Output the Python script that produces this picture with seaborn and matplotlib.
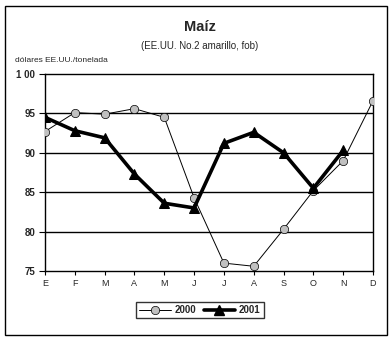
import matplotlib
matplotlib.use("Agg")
import matplotlib.pyplot as plt
import seaborn as sns
import numpy as np
import pandas as pd
from matplotlib.patches import Rectangle
from matplotlib.lines import Line2D

months = ["E", "F", "M", "A", "M", "J", "J", "A", "S", "O", "N", "D"]
v2000 = [92.7, 95.1, 94.9, 95.6, 94.5, 84.3, 76.0, 75.6, 80.3, 85.2, 89.0, 96.6]
v2001 = [94.5, 92.8, 91.9, 87.3, 83.6, 83.0, 91.2, 92.6, 90.0, 85.5, 90.3]
yticks = [75, 80, 85, 90, 95, 100]
ytick_labels = ["75", "80", "85", "90", "95", "1 00"]

sns.set_style("white")
plt.rcParams['font.family'] = ['Liberation Sans', 'DejaVu Sans']

fig = plt.figure(figsize=(3.92, 3.40), dpi=100)
ax = fig.add_axes([45/392, 1-271/340, (373-45)/392, (271-74)/340])

x = np.arange(len(months))
df0 = pd.DataFrame({"m": x, "v": v2000})
df1 = pd.DataFrame({"m": x[:len(v2001)], "v": v2001})

sns.lineplot(data=df0, x="m", y="v", ax=ax, color="black", linewidth=0.7,
             marker="o", markersize=6, markerfacecolor="#c0c0c0",
             markeredgecolor="black", markeredgewidth=0.5, zorder=3)
sns.lineplot(data=df1, x="m", y="v", ax=ax, color="black", linewidth=2.6,
             marker="^", markersize=7, markerfacecolor="black",
             markeredgecolor="black", zorder=4)

ax.set_xlim(0, 11)
ax.set_ylim(75, 100)
ax.set_yticks(yticks)
ax.set_yticklabels(ytick_labels, fontsize=7, fontweight="bold")
ax.set_xticks(x)
ax.set_xticklabels(months, fontsize=6.5)
ax.set_xlabel("")
ax.set_ylabel("")
for yy in [80, 85, 90, 95]:
    ax.axhline(yy, color="black", linewidth=1.0, zorder=1)
ax.tick_params(axis="both", direction="out", length=3, width=0.8, color="black",
               bottom=True, left=True, pad=3)
ax.tick_params(axis="y", length=4)
for s in ax.spines.values():
    s.set_color("black")
    s.set_linewidth(1.0)
    s.set_visible(True)
ax.set_clip_on(False)

fig.text(200/392, 1-27/340, "Maíz", ha="center", va="center", fontsize=10.5, fontweight="bold")
fig.text(200/392, 1-46/340, "(EE.UU. No.2 amarillo, fob)", ha="center", va="center", fontsize=7)
fig.text(15/392, 1-61/340, "dólares EE.UU./tonelada", ha="left", va="center", fontsize=6)

handles = [
    Line2D([], [], color="black", linewidth=0.7, marker="o", markersize=6,
           markerfacecolor="#c0c0c0", markeredgecolor="black", markeredgewidth=0.5),
    Line2D([], [], color="black", linewidth=2.6, marker="^", markersize=7,
           markerfacecolor="black"),
]
leg = fig.legend(handles, ["2000", "2001"], loc="center", bbox_to_anchor=(200/392, 1-310/340),
                 ncol=2, frameon=True, fancybox=False, edgecolor="black", fontsize=7,
                 prop={"weight": "bold", "size": 7}, handlelength=3.2, handletextpad=0.4,
                 columnspacing=0.8, borderpad=0.35)
leg.get_frame().set_linewidth(1.0)

fig.patches.append(Rectangle((5/392, 5/340), 382/392, 329/340, transform=fig.transFigure,
                             fill=False, edgecolor="black", linewidth=1.0))

fig.savefig("out.png", dpi=100)
